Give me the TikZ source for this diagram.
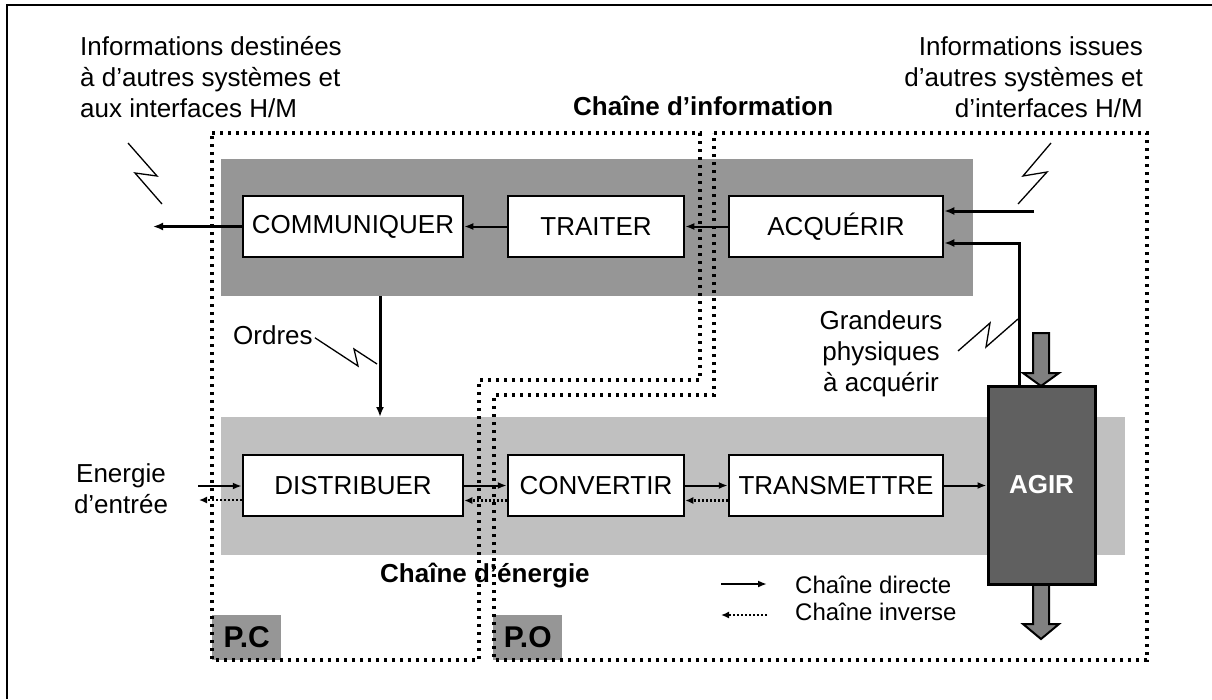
\documentclass[tikz,border=0pt]{standalone}
\usepackage{fontspec}
\setmainfont{Liberation Sans}
\usetikzlibrary{arrows.meta}
\definecolor{infoband}{HTML}{969696}
\definecolor{energyband}{HTML}{C0C0C0}
\definecolor{agirfill}{HTML}{606060}
\definecolor{flowfill}{HTML}{808080}
\tikzset{
  fbox/.style={draw, line width=2.5pt, fill=white, inner sep=0pt, minimum height=61pt},
  thinarr/.style={line width=2pt, -{Latex[length=9pt,width=7pt]}},
  heavyarr/.style={line width=3pt, -{Latex[length=10pt,width=8pt]}},
  invarr/.style={line width=2.2pt, dash pattern=on 2pt off 2pt, -{Latex[length=8pt,width=7pt]}},
  zone/.style={line width=3.6pt, dash pattern=on 3.4pt off 4.6pt},
  zonetag/.style={fill=infoband, inner sep=0pt, minimum width=69pt, minimum height=45pt,
    font=\bfseries\fontsize{30}{36}\selectfont},
  bolt/.style={line width=1.3pt, line join=miter},
  txt/.style={inner sep=0pt},
  boldtxt/.style={inner sep=0pt, font=\bfseries\fontsize{26}{31}\selectfont},
  legtxt/.style={inner sep=0pt, font=\fontsize{24}{28}\selectfont},
  blockarrow/.style={fill=flowfill, draw, line width=2pt, line join=miter}
}
\begin{document}
\begin{tikzpicture}[x=1pt, y=-1pt, font=\fontsize{26}{31}\selectfont]
\useasboundingbox (0,0) rectangle (1212,699);

% outer frame
\draw[line width=2pt] (7,699) -- (7,5) -- (1212,5);

% chain bands
\fill[infoband] (221,159) rectangle (973,296);
\fill[energyband] (221,417) rectangle (1125,555);

% control part / operative part tags
\node[zonetag, anchor=south west] (pc) at (212,660) {P.C};
\node[zonetag, anchor=south west] (po) at (493,660) {P.O};

% control part / operative part boundaries
\draw[zone] (212,133) -- (700,133) -- (700,380) -- (479,380) -- (479,660) -- (212,660) -- cycle;
\draw[zone] (714,133) -- (1147,133) -- (1147,660) -- (494,660) -- (494,395) -- (714,395) -- cycle;

% function blocks
\node[fbox, minimum width=220pt] (comm)  at (353,226.5) {COMMUNIQUER};
\node[fbox, minimum width=176pt] (trait) at (596,226.5) {TRAITER};
\node[fbox, minimum width=214pt] (acq)   at (836,226.5) {ACQUÉRIR};
\node[fbox, minimum width=220pt] (dist)  at (353,485.5) {DISTRIBUER};
\node[fbox, minimum width=176pt] (conv)  at (596,485.5) {CONVERTIR};
\node[fbox, minimum width=214pt] (trans) at (836,485.5) {TRANSMETTRE};

% matter flow through the actuator
\draw[blockarrow] (1033,584) -- (1049,584) -- (1049,624) -- (1059,624) -- (1041,639) -- (1023,624) -- (1033,624) -- cycle;
\node[draw, line width=3pt, fill=agirfill, minimum width=107pt, minimum height=198pt,
  text=white, font=\bfseries\fontsize{26}{31}\selectfont] (agir) at (1041.5,485) {AGIR};
\draw[blockarrow] (1033,333) -- (1049,333) -- (1049,373) -- (1059,373) -- (1041,386) -- (1023,373) -- (1033,373) -- cycle;

% information chain
\draw[thinarr] (acq.west) -- (trait.east);
\draw[thinarr] (trait.west) -- (comm.east);
\coordinate (out) at (153,226.5);
\draw[heavyarr] (comm.west) -- (out);
\coordinate (hmIn) at (1034,211);
\draw[heavyarr] (hmIn) -- (acq.east |- hmIn);
\coordinate (sense) at (1019,243);
\draw[heavyarr] (agir.north -| sense) -- (sense) -- (acq.east |- sense);

% orders
\coordinate (ordA) at (380,296);
\coordinate (ordB) at (380,417);
\draw[heavyarr] (ordA) -- (ordB);

% energy chain
\coordinate (eIn) at (198,486);
\coordinate (eBack) at (199,500);
\draw[thinarr] (eIn) -- (dist.west |- eIn);
\draw[invarr] (dist.west |- eBack) -- (eBack);
\draw[thinarr] (dist.east) -- (conv.west);
\draw[invarr] ([yshift=-15pt]conv.west) -- ([yshift=-15pt]dist.east);
\draw[thinarr] (conv.east) -- (trans.west);
\draw[invarr] ([yshift=-15pt]trans.west) -- ([yshift=-15pt]conv.east);
\draw[thinarr] (trans.east) -- (agir.west |- trans.east);

% texts
\node[txt, anchor=north west, align=left] (infoOut) at (80,36)
  {Informations destinées\\à d’autres systèmes et\\aux interfaces H/M};
\node[txt, anchor=north east, align=right] (infoIn) at (1143,36)
  {Informations issues\\d’autres systèmes et\\d’interfaces H/M};
\node[boldtxt, anchor=base west] (tInfo) at (573,115) {Chaîne d’information};
\node[boldtxt, anchor=base west] (tEnerg) at (380,582) {Chaîne d’énergie};
\node[txt, anchor=base west] (ordres) at (233,344) {Ordres};
\node[txt, anchor=north, align=center] (grand) at (881,310) {Grandeurs\\physiques\\à acquérir};
\node[txt, anchor=north, align=center] (energIn) at (121,463) {Energie\\d’entrée};

% wireless links
\draw[bolt] (128,143) -- (157,176) -- (135,173) -- (162,204);
\draw[bolt] (1051,143) -- (1023,176) -- (1047,172) -- (1018,204);
\draw[bolt] ([xshift=2pt,yshift=-3pt]ordres.east) -- (358,366) -- (354,349) -- (377,364);
\draw[bolt] (958,351) -- (990,323) -- (986,347) -- (1018,319);

% legend
\coordinate (lgA) at (721,584);
\coordinate (lgB) at (767,584);
\coordinate (lgC) at (767,615);
\coordinate (lgD) at (721,615);
\draw[thinarr] (lgA) -- (lgB);
\draw[invarr] (lgC) -- (lgD);
\node[legtxt, anchor=base west] (lgT1) at (795,593) {Chaîne directe};
\node[legtxt, anchor=base west] (lgT2) at (795,620) {Chaîne inverse};
\end{tikzpicture}
\end{document}
